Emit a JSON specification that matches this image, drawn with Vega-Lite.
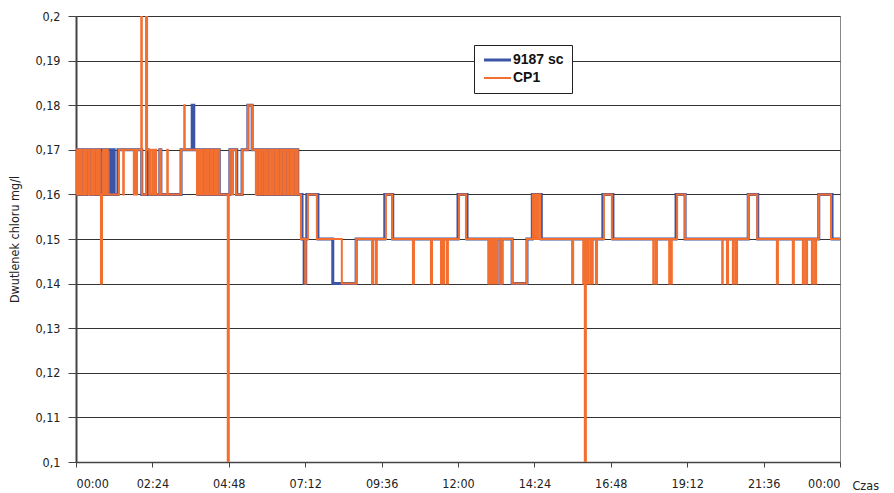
{
  "$schema": "https://vega.github.io/schema/vega-lite/v6.json",
  "width": 764,
  "height": 446,
  "autosize": {"type": "none"},
  "padding": {"left": 76, "top": 16, "right": 54, "bottom": 31},
  "background": "white",
  "config": {
    "view": {"stroke": "#888", "strokeWidth": 1},
    "axis": {
      "labelFont": "Liberation Sans Narrow, DejaVu Sans Condensed, sans-serif",
      "labelFontSize": 12.5,
      "labelColor": "#222",
      "titleFont": "Liberation Sans Narrow, DejaVu Sans Condensed, sans-serif",
      "titleColor": "#222",
      "domainColor": "#444",
      "tickColor": "#444"
    },
    "legend": {
      "title": null, "orient": "none", "legendX": 398, "legendY": 29,
      "fillColor": "white", "strokeColor": "#222", "padding": 8,
      "labelFont": "Liberation Sans, Arial, sans-serif", "labelFontSize": 14, "labelFontWeight": "bold", "labelColor": "#111",
      "symbolType": "M-1,0H4.4", "symbolSize": 100, "labelOffset": 17, "rowPadding": 4
    }
  },
  "data": {"values": [
    {"s":"9187 sc","t":0,"v":0.17},{"s":"9187 sc","t":4,"v":0.16},{"s":"9187 sc","t":6,"v":0.17},{"s":"9187 sc","t":11,"v":0.16},{"s":"9187 sc","t":13,"v":0.17},{"s":"9187 sc","t":19,"v":0.16},{"s":"9187 sc","t":21,"v":0.17},{"s":"9187 sc","t":28,"v":0.16},{"s":"9187 sc","t":30,"v":0.17},{"s":"9187 sc","t":36,"v":0.16},{"s":"9187 sc","t":38,"v":0.17},{"s":"9187 sc","t":43,"v":0.16},{"s":"9187 sc","t":45,"v":0.17},{"s":"9187 sc","t":51,"v":0.16},{"s":"9187 sc","t":53,"v":0.17},{"s":"9187 sc","t":58,"v":0.16},{"s":"9187 sc","t":60,"v":0.17},{"s":"9187 sc","t":66,"v":0.16},{"s":"9187 sc","t":68,"v":0.17},{"s":"9187 sc","t":72,"v":0.16},{"s":"9187 sc","t":79,"v":0.17},{"s":"9187 sc","t":124,"v":0.16},{"s":"9187 sc","t":134,"v":0.17},{"s":"9187 sc","t":136,"v":0.16},{"s":"9187 sc","t":158,"v":0.17},{"s":"9187 sc","t":160,"v":0.16},{"s":"9187 sc","t":198,"v":0.17},{"s":"9187 sc","t":219,"v":0.18},{"s":"9187 sc","t":222,"v":0.17},{"s":"9187 sc","t":230,"v":0.16},{"s":"9187 sc","t":232,"v":0.17},{"s":"9187 sc","t":236,"v":0.16},{"s":"9187 sc","t":239,"v":0.17},{"s":"9187 sc","t":243,"v":0.16},{"s":"9187 sc","t":245,"v":0.17},{"s":"9187 sc","t":249,"v":0.16},{"s":"9187 sc","t":251,"v":0.17},{"s":"9187 sc","t":254,"v":0.16},{"s":"9187 sc","t":256,"v":0.17},{"s":"9187 sc","t":260,"v":0.16},{"s":"9187 sc","t":264,"v":0.17},{"s":"9187 sc","t":270,"v":0.16},{"s":"9187 sc","t":290,"v":0.17},{"s":"9187 sc","t":303,"v":0.16},{"s":"9187 sc","t":313,"v":0.17},{"s":"9187 sc","t":324,"v":0.18},{"s":"9187 sc","t":332,"v":0.17},{"s":"9187 sc","t":343,"v":0.16},{"s":"9187 sc","t":345,"v":0.17},{"s":"9187 sc","t":349,"v":0.16},{"s":"9187 sc","t":351,"v":0.17},{"s":"9187 sc","t":354,"v":0.16},{"s":"9187 sc","t":358,"v":0.17},{"s":"9187 sc","t":362,"v":0.16},{"s":"9187 sc","t":364,"v":0.17},{"s":"9187 sc","t":369,"v":0.16},{"s":"9187 sc","t":371,"v":0.17},{"s":"9187 sc","t":375,"v":0.16},{"s":"9187 sc","t":379,"v":0.17},{"s":"9187 sc","t":383,"v":0.16},{"s":"9187 sc","t":385,"v":0.17},{"s":"9187 sc","t":390,"v":0.16},{"s":"9187 sc","t":392,"v":0.17},{"s":"9187 sc","t":398,"v":0.16},{"s":"9187 sc","t":400,"v":0.17},{"s":"9187 sc","t":403,"v":0.16},{"s":"9187 sc","t":405,"v":0.17},{"s":"9187 sc","t":411,"v":0.16},{"s":"9187 sc","t":415,"v":0.17},{"s":"9187 sc","t":418,"v":0.16},{"s":"9187 sc","t":426,"v":0.15},{"s":"9187 sc","t":430,"v":0.14},{"s":"9187 sc","t":433,"v":0.15},{"s":"9187 sc","t":435,"v":0.16},{"s":"9187 sc","t":456,"v":0.15},{"s":"9187 sc","t":484,"v":0.14},{"s":"9187 sc","t":528,"v":0.15},{"s":"9187 sc","t":582,"v":0.16},{"s":"9187 sc","t":597,"v":0.15},{"s":"9187 sc","t":720,"v":0.16},{"s":"9187 sc","t":737,"v":0.15},{"s":"9187 sc","t":799,"v":0.14},{"s":"9187 sc","t":803,"v":0.15},{"s":"9187 sc","t":822,"v":0.14},{"s":"9187 sc","t":850,"v":0.15},{"s":"9187 sc","t":860,"v":0.16},{"s":"9187 sc","t":877,"v":0.15},{"s":"9187 sc","t":993,"v":0.16},{"s":"9187 sc","t":1012,"v":0.15},{"s":"9187 sc","t":1131,"v":0.16},{"s":"9187 sc","t":1148,"v":0.15},{"s":"9187 sc","t":1267,"v":0.16},{"s":"9187 sc","t":1285,"v":0.15},{"s":"9187 sc","t":1400,"v":0.16},{"s":"9187 sc","t":1425,"v":0.15},{"s":"9187 sc","t":1440,"v":0.15},
    {"s":"CP1","t":0,"v":0.17},{"s":"CP1","t":2,"v":0.16},{"s":"CP1","t":4,"v":0.17},{"s":"CP1","t":6,"v":0.16},{"s":"CP1","t":9,"v":0.17},{"s":"CP1","t":11,"v":0.16},{"s":"CP1","t":15,"v":0.17},{"s":"CP1","t":17,"v":0.16},{"s":"CP1","t":19,"v":0.17},{"s":"CP1","t":23,"v":0.16},{"s":"CP1","t":25,"v":0.17},{"s":"CP1","t":26,"v":0.16},{"s":"CP1","t":30,"v":0.17},{"s":"CP1","t":32,"v":0.16},{"s":"CP1","t":34,"v":0.17},{"s":"CP1","t":38,"v":0.16},{"s":"CP1","t":40,"v":0.17},{"s":"CP1","t":41,"v":0.16},{"s":"CP1","t":43,"v":0.17},{"s":"CP1","t":45,"v":0.16},{"s":"CP1","t":47,"v":0.14},{"s":"CP1","t":49,"v":0.16},{"s":"CP1","t":51,"v":0.17},{"s":"CP1","t":53,"v":0.16},{"s":"CP1","t":55,"v":0.17},{"s":"CP1","t":57,"v":0.16},{"s":"CP1","t":58,"v":0.17},{"s":"CP1","t":60,"v":0.16},{"s":"CP1","t":81,"v":0.17},{"s":"CP1","t":89,"v":0.16},{"s":"CP1","t":90,"v":0.17},{"s":"CP1","t":109,"v":0.16},{"s":"CP1","t":111,"v":0.17},{"s":"CP1","t":113,"v":0.16},{"s":"CP1","t":115,"v":0.17},{"s":"CP1","t":123,"v":0.21},{"s":"CP1","t":124,"v":0.16},{"s":"CP1","t":132,"v":0.21},{"s":"CP1","t":134,"v":0.17},{"s":"CP1","t":138,"v":0.16},{"s":"CP1","t":139,"v":0.17},{"s":"CP1","t":141,"v":0.16},{"s":"CP1","t":145,"v":0.17},{"s":"CP1","t":147,"v":0.16},{"s":"CP1","t":149,"v":0.17},{"s":"CP1","t":151,"v":0.16},{"s":"CP1","t":158,"v":0.17},{"s":"CP1","t":160,"v":0.16},{"s":"CP1","t":172,"v":0.17},{"s":"CP1","t":173,"v":0.16},{"s":"CP1","t":198,"v":0.17},{"s":"CP1","t":204,"v":0.18},{"s":"CP1","t":205,"v":0.17},{"s":"CP1","t":228,"v":0.16},{"s":"CP1","t":230,"v":0.17},{"s":"CP1","t":232,"v":0.16},{"s":"CP1","t":234,"v":0.17},{"s":"CP1","t":236,"v":0.16},{"s":"CP1","t":237,"v":0.17},{"s":"CP1","t":239,"v":0.16},{"s":"CP1","t":243,"v":0.17},{"s":"CP1","t":245,"v":0.16},{"s":"CP1","t":247,"v":0.17},{"s":"CP1","t":249,"v":0.16},{"s":"CP1","t":253,"v":0.17},{"s":"CP1","t":254,"v":0.16},{"s":"CP1","t":256,"v":0.17},{"s":"CP1","t":258,"v":0.16},{"s":"CP1","t":262,"v":0.17},{"s":"CP1","t":264,"v":0.16},{"s":"CP1","t":266,"v":0.17},{"s":"CP1","t":270,"v":0.16},{"s":"CP1","t":286,"v":0.1},{"s":"CP1","t":288,"v":0.16},{"s":"CP1","t":290,"v":0.17},{"s":"CP1","t":294,"v":0.16},{"s":"CP1","t":296,"v":0.17},{"s":"CP1","t":302,"v":0.16},{"s":"CP1","t":313,"v":0.17},{"s":"CP1","t":324,"v":0.18},{"s":"CP1","t":332,"v":0.17},{"s":"CP1","t":339,"v":0.16},{"s":"CP1","t":341,"v":0.17},{"s":"CP1","t":345,"v":0.16},{"s":"CP1","t":347,"v":0.17},{"s":"CP1","t":351,"v":0.16},{"s":"CP1","t":352,"v":0.17},{"s":"CP1","t":356,"v":0.16},{"s":"CP1","t":358,"v":0.17},{"s":"CP1","t":360,"v":0.16},{"s":"CP1","t":364,"v":0.17},{"s":"CP1","t":366,"v":0.16},{"s":"CP1","t":368,"v":0.17},{"s":"CP1","t":371,"v":0.16},{"s":"CP1","t":373,"v":0.17},{"s":"CP1","t":377,"v":0.16},{"s":"CP1","t":379,"v":0.17},{"s":"CP1","t":381,"v":0.16},{"s":"CP1","t":385,"v":0.17},{"s":"CP1","t":386,"v":0.16},{"s":"CP1","t":388,"v":0.17},{"s":"CP1","t":392,"v":0.16},{"s":"CP1","t":394,"v":0.17},{"s":"CP1","t":398,"v":0.16},{"s":"CP1","t":400,"v":0.17},{"s":"CP1","t":401,"v":0.16},{"s":"CP1","t":405,"v":0.17},{"s":"CP1","t":407,"v":0.16},{"s":"CP1","t":409,"v":0.17},{"s":"CP1","t":413,"v":0.16},{"s":"CP1","t":415,"v":0.17},{"s":"CP1","t":418,"v":0.16},{"s":"CP1","t":424,"v":0.15},{"s":"CP1","t":432,"v":0.14},{"s":"CP1","t":433,"v":0.15},{"s":"CP1","t":437,"v":0.16},{"s":"CP1","t":454,"v":0.15},{"s":"CP1","t":501,"v":0.14},{"s":"CP1","t":528,"v":0.15},{"s":"CP1","t":558,"v":0.14},{"s":"CP1","t":560,"v":0.15},{"s":"CP1","t":565,"v":0.14},{"s":"CP1","t":567,"v":0.15},{"s":"CP1","t":584,"v":0.16},{"s":"CP1","t":596,"v":0.15},{"s":"CP1","t":635,"v":0.14},{"s":"CP1","t":637,"v":0.15},{"s":"CP1","t":669,"v":0.14},{"s":"CP1","t":671,"v":0.15},{"s":"CP1","t":688,"v":0.14},{"s":"CP1","t":690,"v":0.15},{"s":"CP1","t":692,"v":0.14},{"s":"CP1","t":694,"v":0.15},{"s":"CP1","t":699,"v":0.14},{"s":"CP1","t":701,"v":0.15},{"s":"CP1","t":722,"v":0.16},{"s":"CP1","t":735,"v":0.15},{"s":"CP1","t":777,"v":0.14},{"s":"CP1","t":778,"v":0.15},{"s":"CP1","t":780,"v":0.14},{"s":"CP1","t":782,"v":0.15},{"s":"CP1","t":784,"v":0.14},{"s":"CP1","t":786,"v":0.15},{"s":"CP1","t":788,"v":0.14},{"s":"CP1","t":790,"v":0.15},{"s":"CP1","t":792,"v":0.14},{"s":"CP1","t":794,"v":0.15},{"s":"CP1","t":799,"v":0.14},{"s":"CP1","t":803,"v":0.15},{"s":"CP1","t":822,"v":0.14},{"s":"CP1","t":850,"v":0.15},{"s":"CP1","t":861,"v":0.16},{"s":"CP1","t":865,"v":0.15},{"s":"CP1","t":867,"v":0.16},{"s":"CP1","t":869,"v":0.15},{"s":"CP1","t":871,"v":0.16},{"s":"CP1","t":875,"v":0.15},{"s":"CP1","t":935,"v":0.14},{"s":"CP1","t":937,"v":0.15},{"s":"CP1","t":956,"v":0.14},{"s":"CP1","t":958,"v":0.15},{"s":"CP1","t":959,"v":0.1},{"s":"CP1","t":961,"v":0.15},{"s":"CP1","t":963,"v":0.14},{"s":"CP1","t":965,"v":0.15},{"s":"CP1","t":969,"v":0.14},{"s":"CP1","t":971,"v":0.15},{"s":"CP1","t":973,"v":0.14},{"s":"CP1","t":974,"v":0.15},{"s":"CP1","t":980,"v":0.14},{"s":"CP1","t":982,"v":0.15},{"s":"CP1","t":995,"v":0.16},{"s":"CP1","t":1010,"v":0.15},{"s":"CP1","t":1088,"v":0.14},{"s":"CP1","t":1089,"v":0.15},{"s":"CP1","t":1093,"v":0.14},{"s":"CP1","t":1095,"v":0.15},{"s":"CP1","t":1118,"v":0.14},{"s":"CP1","t":1120,"v":0.15},{"s":"CP1","t":1121,"v":0.14},{"s":"CP1","t":1123,"v":0.15},{"s":"CP1","t":1133,"v":0.16},{"s":"CP1","t":1148,"v":0.15},{"s":"CP1","t":1218,"v":0.14},{"s":"CP1","t":1219,"v":0.15},{"s":"CP1","t":1227,"v":0.14},{"s":"CP1","t":1229,"v":0.15},{"s":"CP1","t":1238,"v":0.14},{"s":"CP1","t":1240,"v":0.15},{"s":"CP1","t":1244,"v":0.14},{"s":"CP1","t":1246,"v":0.15},{"s":"CP1","t":1267,"v":0.16},{"s":"CP1","t":1284,"v":0.15},{"s":"CP1","t":1321,"v":0.14},{"s":"CP1","t":1323,"v":0.15},{"s":"CP1","t":1351,"v":0.14},{"s":"CP1","t":1353,"v":0.15},{"s":"CP1","t":1370,"v":0.14},{"s":"CP1","t":1372,"v":0.15},{"s":"CP1","t":1376,"v":0.14},{"s":"CP1","t":1378,"v":0.15},{"s":"CP1","t":1387,"v":0.14},{"s":"CP1","t":1389,"v":0.15},{"s":"CP1","t":1393,"v":0.14},{"s":"CP1","t":1395,"v":0.15},{"s":"CP1","t":1400,"v":0.16},{"s":"CP1","t":1423,"v":0.15},{"s":"CP1","t":1440,"v":0.15}
  ]},
  "mark": {"type": "line", "interpolate": "step-after", "clip": true, "strokeJoin": "miter", "strokeCap": "butt"},
  "encoding": {
    "x": {
      "field": "t", "type": "quantitative",
      "scale": {"domain": [0, 1440], "nice": false, "zero": false},
      "axis": {
        "values": [0, 144, 288, 432, 576, 720, 864, 1008, 1152, 1296, 1440],
        "labelExpr": "(floor(datum.value/60)%24 < 10 ? '0' : '') + (floor(datum.value/60)%24) + ':' + (datum.value%60 < 10 ? '0' : '') + (datum.value%60)",
        "grid": false,
        "tickSize": 5,
        "labelPadding": 10,
        "domainWidth": 1.5,
        "title": "Czas",
        "titleFontSize": 12.5,
        "titleFontWeight": "normal",
        "titleAnchor": "start",
        "titleAlign": "left",
        "titleBaseline": "middle",
        "titleX": 776,
        "titleY": 23
      }
    },
    "y": {
      "field": "v", "type": "quantitative",
      "scale": {"domain": [0.1, 0.2], "nice": false, "zero": false},
      "axis": {
        "values": [0.1, 0.11, 0.12, 0.13, 0.14, 0.15, 0.16, 0.17, 0.18, 0.19, 0.2],
        "labelExpr": "replace(format(datum.value, '.2~f'), '.', ',')",
        "grid": true,
        "gridColor": "#333",
        "gridWidth": 1,
        "tickSize": 8,
        "labelPadding": 8,
        "domainWidth": 2,
        "title": "Dwutlenek chloru mg/l",
        "titleFontSize": 12.5,
        "titleFontWeight": "normal",
        "titleAngle": -90,
        "titleAlign": "center",
        "titleBaseline": "middle",
        "titleX": -62,
        "titleY": 223
      }
    },
    "color": {
      "field": "s", "type": "nominal",
      "scale": {"domain": ["9187 sc", "CP1"], "range": ["#3b54a6", "#f26f2f"]}
    },
    "strokeWidth": {
      "field": "s", "type": "nominal",
      "scale": {"domain": ["9187 sc", "CP1"], "range": [3, 2]}
    }
  }
}
